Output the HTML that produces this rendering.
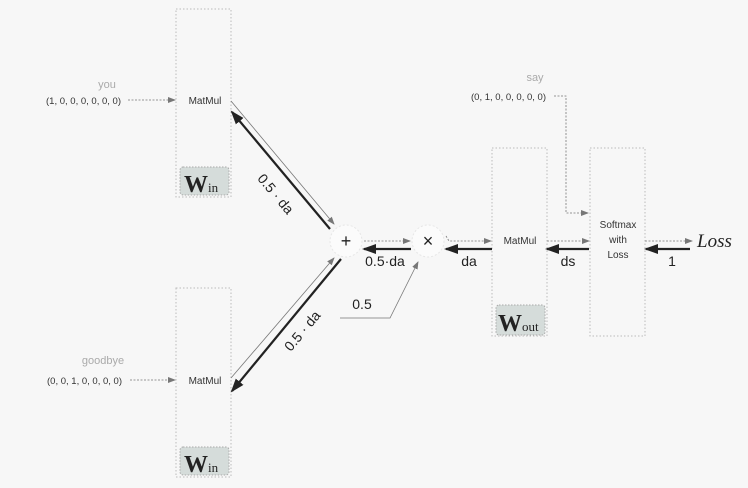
<!DOCTYPE html>
<html><head><style>
html,body{margin:0;padding:0;background:#f7f7f7;}
svg{display:block;font-family:"Liberation Sans",sans-serif;}
</style></head><body>
<svg width="748" height="488" viewBox="0 0 748 488">
<defs>
<marker id="ag" markerWidth="8" markerHeight="6" refX="7" refY="3" orient="auto" markerUnits="userSpaceOnUse"><path d="M0,0 L8,3 L0,6 z" fill="#777"/></marker>
<marker id="ab" markerWidth="14" markerHeight="10" refX="12" refY="5" orient="auto" markerUnits="userSpaceOnUse"><path d="M0,0 L14,5 L0,10 z" fill="#222"/></marker>
</defs>
<rect width="748" height="488" fill="#f7f7f7"/>
<g fill="none" stroke="#bbb" stroke-dasharray="1.5,2">
<rect x="176" y="9" width="55" height="188"/>
<rect x="176" y="288" width="55" height="189"/>
<rect x="492" y="148" width="55" height="188"/>
<rect x="590" y="148" width="55" height="188"/>
</g>
<g fill="#d5dcda" stroke="#aaa" stroke-dasharray="1.5,1.5">
<rect x="180" y="167" width="49" height="28" rx="3"/>
<rect x="180" y="447" width="49" height="28" rx="3"/>
<rect x="496" y="305" width="49" height="30" rx="3"/>
</g>
<g font-family="Liberation Serif,serif" font-weight="bold" fill="#222">
<text x="184" y="192" font-size="24">W<tspan font-size="13" font-weight="normal">in</tspan></text>
<text x="184" y="472" font-size="24">W<tspan font-size="13" font-weight="normal">in</tspan></text>
<text x="498" y="331" font-size="24">W<tspan font-size="13" font-weight="normal">out</tspan></text>
</g>
<circle cx="346" cy="241" r="16" fill="#fbfbfb" stroke="#e6e6e6" stroke-dasharray="2,2"/>
<circle cx="428" cy="241" r="16" fill="#fbfbfb" stroke="#e6e6e6" stroke-dasharray="2,2"/>
<text x="346" y="247" font-size="18" text-anchor="middle" fill="#222">+</text>
<text x="428" y="247" font-size="18" text-anchor="middle" fill="#222">×</text>
<g font-size="10" fill="#333">
<text x="205" y="104" text-anchor="middle">MatMul</text>
<text x="205" y="384" text-anchor="middle">MatMul</text>
<text x="520" y="244" text-anchor="middle">MatMul</text>
<text x="618" y="228" text-anchor="middle">Softmax</text>
<text x="618" y="243" text-anchor="middle">with</text>
<text x="618" y="258" text-anchor="middle">Loss</text>
<text x="121" y="104" text-anchor="end" font-size="9.5">(1, 0, 0, 0, 0, 0, 0)</text>
<text x="122" y="384" text-anchor="end" font-size="9.5">(0, 0, 1, 0, 0, 0, 0)</text>
<text x="546" y="100" text-anchor="end" font-size="9.5">(0, 1, 0, 0, 0, 0, 0)</text>
</g>
<g font-size="11" fill="#aaa" text-anchor="middle">
<text x="107" y="88">you</text>
<text x="103" y="364">goodbye</text>
<text x="535" y="81">say</text>
</g>
<g stroke="#777" stroke-width="0.8" fill="none" marker-end="url(#ag)">
<line x1="128" y1="100" x2="175" y2="100" stroke-dasharray="2,1.5"/>
<line x1="130" y1="380" x2="175" y2="380" stroke-dasharray="2,1.5"/>
<polyline points="554,96 566,96 566,213 588,213" stroke-dasharray="2,1.5"/>
<line x1="231" y1="101" x2="334" y2="224"/>
<line x1="231" y1="378" x2="334" y2="258"/>
<line x1="364" y1="241" x2="410" y2="241" stroke-dasharray="2,1.5"/>
<polyline points="446,236 449,241 491,241" stroke-dasharray="2,1.5"/>
<line x1="547" y1="241" x2="589" y2="241" stroke-dasharray="2,1.5"/>
<line x1="645" y1="241" x2="692" y2="241" stroke-dasharray="2,1.5"/>
<polyline points="340,318 390,318 418,262"/>
</g>
<g stroke="#222" stroke-width="2.2" fill="none" marker-end="url(#ab)">
<line x1="330" y1="229" x2="232" y2="112"/>
<line x1="341" y1="259" x2="232" y2="391"/>
<line x1="411" y1="249" x2="364" y2="249"/>
<line x1="492" y1="249" x2="446" y2="249"/>
<line x1="589" y1="249" x2="547" y2="249"/>
<line x1="690" y1="249" x2="646" y2="249"/>
</g>
<g font-size="14" fill="#222">
<text x="385" y="266" text-anchor="middle">0.5·da</text>
<text x="469" y="266" text-anchor="middle">da</text>
<text x="568" y="266" text-anchor="middle">ds</text>
<text x="672" y="266" text-anchor="middle">1</text>
<text x="362" y="309" text-anchor="middle">0.5</text>
<text transform="translate(272,197) rotate(50)" text-anchor="middle">0.5 · da</text>
<text transform="translate(306,334) rotate(-50)" text-anchor="middle">0.5 · da</text>
</g>
<text x="697" y="247" font-family="Liberation Serif,serif" font-style="italic" font-size="19" fill="#222">Loss</text>
</svg>
</body></html>
